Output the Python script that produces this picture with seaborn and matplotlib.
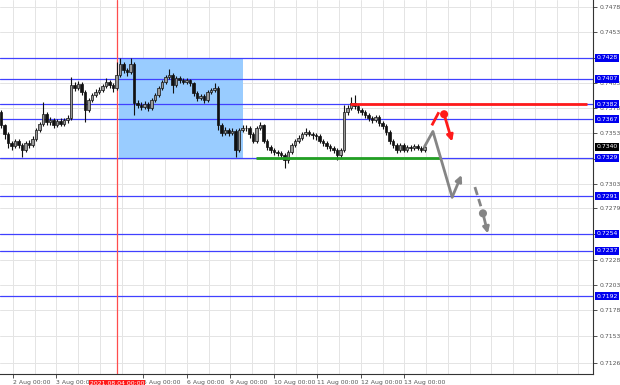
import numpy as np
import pandas as pd
import matplotlib
matplotlib.use("Agg")
import matplotlib.pyplot as plt
import matplotlib.transforms as mtransforms
import seaborn as sns

# ---------------- data (prices in units of 0.0001) ----------------
first_open = 7374
close_pips = [7361, 7352, 7344, 7341, 7346, 7342, 7337, 7344, 7342, 7348,
              7356, 7362, 7372, 7364, 7366, 7361, 7365, 7362, 7366, 7368,
              7401, 7398, 7402, 7394, 7376, 7386, 7391, 7394, 7396, 7400,
              7404, 7401, 7398, 7411, 7422, 7416, 7414, 7422, 7383, 7381,
              7379, 7382, 7378, 7386, 7391, 7398, 7404, 7409, 7411, 7401,
              7408, 7406, 7404, 7406, 7403, 7393, 7388, 7390, 7386, 7394,
              7396, 7398, 7361, 7353, 7356, 7353, 7355, 7337, 7356, 7358,
              7358, 7352, 7346, 7358, 7361, 7346, 7340, 7337, 7335, 7334,
              7332, 7327, 7335, 7342, 7346, 7349, 7352, 7354, 7352, 7351,
              7350, 7346, 7344, 7341, 7339, 7337, 7332, 7337, 7374, 7378,
              7383, 7380, 7376, 7374, 7371, 7368, 7366, 7369, 7363, 7360,
              7354, 7346, 7342, 7337, 7342, 7337, 7340, 7339, 7341, 7339,
              7337, 7340]
high_pips = [7376, 7362, 7354, 7346, 7348, 7348, 7344, 7346, 7347, 7350,
             7358, 7364, 7384, 7374, 7369, 7368, 7367, 7368, 7368, 7371,
             7409, 7404, 7405, 7404, 7396, 7388, 7393, 7397, 7399, 7402,
             7408, 7406, 7403, 7424, 7428, 7424, 7418, 7428, 7424, 7386,
             7384, 7385, 7384, 7388, 7393, 7400, 7406, 7411, 7417, 7413,
             7410, 7410, 7408, 7408, 7407, 7404, 7395, 7392, 7392, 7396,
             7398, 7403, 7400, 7363, 7359, 7358, 7358, 7357, 7358, 7361,
             7361, 7360, 7354, 7360, 7364, 7362, 7348, 7342, 7339, 7337,
             7336, 7334, 7337, 7344, 7348, 7351, 7354, 7358, 7356, 7354,
             7353, 7352, 7348, 7346, 7343, 7341, 7339, 7339, 7381, 7381,
             7389, 7391, 7382, 7378, 7376, 7373, 7370, 7371, 7371, 7365,
             7362, 7356, 7348, 7344, 7344, 7344, 7342, 7342, 7343, 7343,
             7341, 7342]
low_pips = [7358, 7348, 7339, 7337, 7339, 7339, 7330, 7335, 7339, 7340,
            7346, 7354, 7360, 7361, 7361, 7358, 7359, 7360, 7360, 7363,
            7366, 7395, 7396, 7391, 7364, 7374, 7384, 7389, 7392, 7394,
            7398, 7398, 7394, 7396, 7409, 7413, 7410, 7412, 7371, 7378,
            7376, 7377, 7375, 7376, 7384, 7389, 7396, 7402, 7407, 7393,
            7399, 7403, 7402, 7402, 7400, 7390, 7385, 7386, 7383, 7384,
            7392, 7394, 7356, 7350, 7351, 7350, 7351, 7330, 7335, 7354,
            7355, 7349, 7344, 7344, 7356, 7344, 7337, 7334, 7332, 7331,
            7329, 7319, 7324, 7333, 7340, 7344, 7347, 7350, 7350, 7348,
            7347, 7344, 7341, 7338, 7336, 7334, 7327, 7329, 7335, 7371,
            7376, 7377, 7373, 7371, 7368, 7365, 7363, 7364, 7360, 7357,
            7351, 7343, 7339, 7334, 7335, 7335, 7335, 7336, 7337, 7337,
            7335, 7335]

blue_levels = [0.7428, 0.7407, 0.7382, 0.7367, 0.7329, 0.7291, 0.7254, 0.7237, 0.7192]
resistance_level = 0.7382
support_level = 0.7329
current_price = 0.7340
zone_top, zone_bottom = 0.7428, 0.7329
price_ticks = [0.7478, 0.7453, 0.7428, 0.7403, 0.7378, 0.7353, 0.7328, 0.7303,
               0.7279, 0.7254, 0.7228, 0.7203, 0.7178, 0.7153, 0.7126]
# labels hidden behind highlighted level boxes are left blank
price_tick_labels = ["0.7478", "0.7453", "", "0.7403", "0.7378", "0.7353", "",
                     "0.7303", "0.7279", "", "0.7228", "0.7203", "0.7178", "0.7153", "0.7126"]
day_labels = ["2 Aug 00:00", "3 Aug 00:00", "5 Aug 00:00", "6 Aug 00:00", "9 Aug 00:00",
              "10 Aug 00:00", "11 Aug 00:00", "12 Aug 00:00", "13 Aug 00:00"]
day_index = [0, 1, 3, 4, 5, 6, 7, 8, 9]
marker_label = "2021.08.04 00:00"

# forecast sketch (bar index, price)
gray_path_x = [121, 123.4, 128.9]
gray_path_y = [0.7340, 0.7355, 0.7290]
gray_arrow = [(128.9, 0.7290), (131.6, 0.7312)]
red_stroke = [(123.1, 0.7361), (125.1, 0.7374)]
red_dot = (126.6, 0.7372)
red_arrow_end = (128.9, 0.7345)
gray_dash = [(135.4, 0.7300), (137.1, 0.7281)]
gray_dot = (137.7, 0.7274)
gray_arrow2_end = (139.1, 0.7254)

# ---------------- build ----------------
close = np.array(close_pips) / 1e4
high = np.array(high_pips) / 1e4
low = np.array(low_pips) / 1e4
open_ = np.concatenate([[first_open / 1e4], close[:-1]])
df = pd.DataFrame({"bar": np.arange(len(close)), "open": open_, "high": high,
                   "low": low, "close": close})

sns.set_style("white")
plt.rcParams["font.family"] = ["DejaVu Sans"]

W, H = 620, 385
fig = plt.figure(figsize=(W / 100, H / 100), dpi=100)
ax = fig.add_axes([0, 11 / H, 593 / W, 374 / H])

PX = 3.5  # pixels per bar
def px2bar(px):
    return (px - 1) / PX

ax.set_xlim(px2bar(0), px2bar(593))
ax.set_ylim(0.71151, 0.7485)

day0 = px2bar(12.8)
day_w = 43.5 / PX

# grid
grid_c = "#e4e4e4"
k = 0
while day0 + k * day_w / 2 < px2bar(593):
    ax.axvline(day0 + k * day_w / 2, color=grid_c, lw=0.7, zorder=0)
    k += 1
for t in price_ticks:
    ax.axhline(t, color=grid_c, lw=0.7, zorder=0)

# zone rectangle
x_zone0, x_zone1 = px2bar(119), px2bar(243)
ax.add_patch(plt.Rectangle((x_zone0, zone_bottom), x_zone1 - x_zone0, zone_top - zone_bottom,
                           facecolor="#99ccff", edgecolor="none", zorder=1))

# horizontal levels
for lv in blue_levels:
    ax.axhline(lv, color="#4040ff", lw=0.9, zorder=2)

# red vertical marker
x_mark = px2bar(117)
ax.axvline(x_mark, color="#ff4d4d", lw=0.9, zorder=2)

# candles
up = df["close"] >= df["open"]
ax.vlines(df["bar"], df["low"], df["high"], color="#111111", lw=0.8, zorder=3)
body_bottom = np.minimum(df["open"], df["close"])
body_h = np.maximum(np.abs(df["close"] - df["open"]), 0.00006)
ax.bar(df["bar"], body_h, bottom=body_bottom, width=0.6,
       color=np.where(up, "#9a9a9a", "#111111"), edgecolor="#111111", linewidth=0.5, zorder=4)

# support / resistance
ax.hlines(resistance_level, px2bar(350), px2bar(587), color="#ff1a1a", lw=2, zorder=5)
ax.hlines(support_level, px2bar(256), px2bar(440), color="#22a022", lw=2, zorder=5)

# forecast sketch
gray = "#858585"
sns.lineplot(x=gray_path_x, y=gray_path_y, ax=ax, color=gray, lw=2, sort=False, zorder=6)
ax.annotate("", xy=gray_arrow[1], xytext=gray_arrow[0],
            arrowprops=dict(arrowstyle="-|>", color=gray, lw=2, mutation_scale=9,
                            shrinkA=0, shrinkB=0), zorder=6)
ax.plot([red_stroke[0][0], red_stroke[1][0]], [red_stroke[0][1], red_stroke[1][1]],
        color="#ff1a1a", lw=2, zorder=6, solid_capstyle="butt")
ax.annotate("", xy=red_arrow_end, xytext=red_dot,
            arrowprops=dict(arrowstyle="-|>", color="#ff1a1a", lw=2, mutation_scale=9,
                            shrinkA=0, shrinkB=0), zorder=6)
ax.plot([gray_dash[0][0], gray_dash[1][0]], [gray_dash[0][1], gray_dash[1][1]],
        color=gray, lw=2, ls=(0, (3, 1.5)), zorder=6)
ax.annotate("", xy=gray_arrow2_end, xytext=gray_dot,
            arrowprops=dict(arrowstyle="-|>", color=gray, lw=2, mutation_scale=9,
                            shrinkA=0, shrinkB=0), zorder=6)
sns.scatterplot(x=[red_dot[0], gray_dot[0]], y=[red_dot[1], gray_dot[1]], ax=ax,
                color=["#ff1a1a", gray], s=34, edgecolor="none", zorder=7, legend=False)

# axes styling
for s in ["left", "top"]:
    ax.spines[s].set_visible(False)
for s in ["right", "bottom"]:
    ax.spines[s].set_color("#333333")
    ax.spines[s].set_linewidth(0.8)

fs = 4.4
tick_c = "#555555"
ax.yaxis.tick_right()
ax.set_yticks(price_ticks)
ax.set_yticklabels(price_tick_labels)
ax.tick_params(axis="y", which="both", right=True, left=False, length=3, width=0.6,
               pad=2, labelsize=fs, labelcolor=tick_c, color="#333333")
xt = [day0 + i * day_w for i in day_index]
ax.set_xticks(xt)
ax.set_xticklabels(day_labels, ha="left")
ax.tick_params(axis="x", bottom=True, length=3, width=0.6, pad=1.5, labelsize=fs,
               labelcolor=tick_c, color="#333333")
ax.set_xlabel("")
ax.set_ylabel("")

# highlighted price labels
ytr = mtransforms.blended_transform_factory(ax.transAxes, ax.transData)
for lv in blue_levels:
    ax.text(1.006, lv, f"{lv:.4f}", transform=ytr, color="white", fontsize=fs,
            va="center", ha="left", clip_on=False, zorder=10,
            bbox=dict(boxstyle="square,pad=0.25", fc="#0000ee", ec="none"))
ax.text(1.006, current_price, f"{current_price:.4f}", transform=ytr, color="white",
        fontsize=fs, va="center", ha="left", clip_on=False, zorder=10,
        bbox=dict(boxstyle="square,pad=0.25", fc="black", ec="none"))

# date marker label
xtr = mtransforms.blended_transform_factory(ax.transData, ax.transAxes)
ax.text(x_mark, -0.018, marker_label, transform=xtr, color="white", fontsize=fs,
        va="top", ha="center", clip_on=False, zorder=10,
        bbox=dict(boxstyle="square,pad=0.2", fc="#ff1a1a", ec="none"))

fig.savefig("out.png", dpi=100, facecolor="white")
